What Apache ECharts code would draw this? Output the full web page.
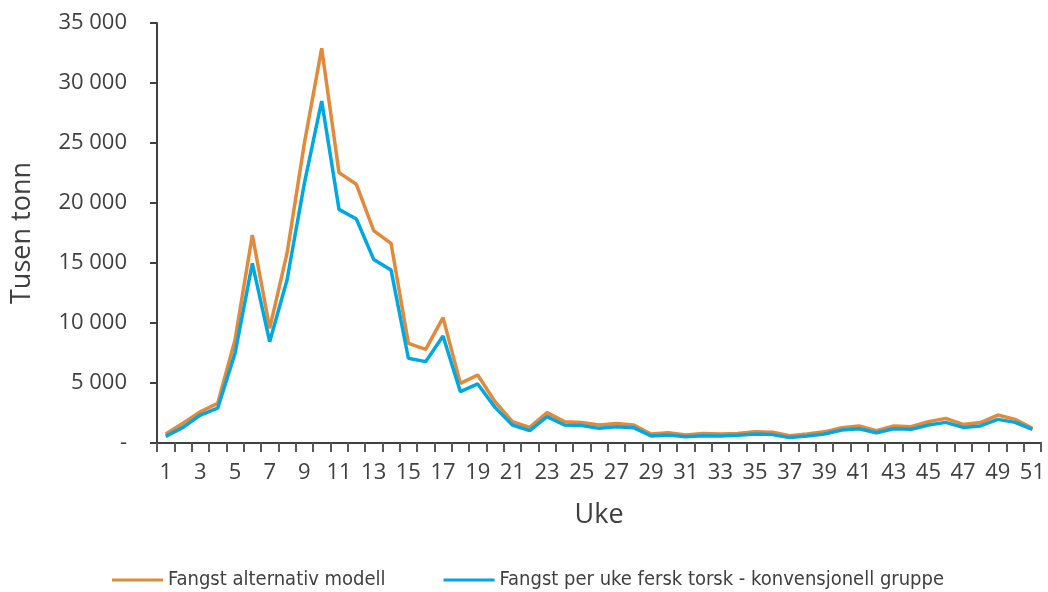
<!DOCTYPE html>
<html>
<head>
<meta charset="utf-8">
<script src="https://cdn.jsdelivr.net/npm/echarts@6/dist/echarts.min.js"></script>
<style>
  html, body { margin: 0; padding: 0; background: #fff; }
  #chart { width: 1048px; height: 592px; }
</style>
</head>
<body>
<div id="chart"></div>
<script>
// uker 1..51
const weeks = [];
for (let i = 1; i <= 51; i++) weeks.push(String(i));

const altModell = [
  750, 1640, 2600, 3300, 8580, 17330, 9560, 15800, 24970, 32890,
  22530, 21560, 17700, 16640, 8300, 7800, 10450, 4970, 5670, 3440,
  1780, 1300, 2530, 1780, 1700, 1500, 1620, 1500, 750, 860,
  670, 800, 750, 800, 940, 900, 610, 750, 930, 1280,
  1420, 1030, 1420, 1360, 1780, 2050, 1550, 1700, 2330, 1970,
  1220
];

const konvensjonell = [
  550, 1300, 2330, 2900, 7470, 14970, 8440, 13580, 21640, 28500,
  19470, 18670, 15300, 14420, 7060, 6780, 8920, 4280, 4920, 2970,
  1500, 1030, 2200, 1500, 1450, 1220, 1360, 1280, 580, 670,
  530, 610, 580, 640, 750, 700, 450, 580, 750, 1080,
  1190, 860, 1190, 1140, 1500, 1720, 1300, 1420, 1970, 1720,
  1140
];

const seriesNames = [
  "Fangst alternativ modell",
  "Fangst per uke fersk torsk - konvensjonell gruppe"
];

const chart = echarts.init(document.getElementById("chart"));

function fmtNum(v) {
  if (v === 0) return "-";
  return String(v).replace(/\B(?=(\d{3})+(?!\d))/g, " ");
}

const option = {
  animation: false,
  textStyle: { fontFamily: "Open Sans" },
  grid: {
    left: 157,
    right: 5,
    top: 23,
    bottom: 149,
  },
  legend: {
    top: 565,
    left: 107,
    itemGap: 58,
    icon: "rect",
    itemWidth: 51,
    itemHeight: 3,
    textStyle: {
      fontFamily: "DejaVu Sans Condensed",
      fontSize: 20,
      color: "#404040",
    },
    data: seriesNames,
  },
  xAxis: {
    type: "category",
    data: weeks,
    name: "Uke",
    nameLocation: "middle",
    nameGap: 59,
    nameTextStyle: { fontSize: 27, color: "#404040" },
    axisLine: { lineStyle: { color: "#404040", width: 2 } },
    axisTick: {
      show: true,
      interval: 0,
      length: 9,
      lineStyle: { color: "#595959", width: 2 },
    },
    axisLabel: {
      interval: 1,
      fontSize: 22,
      color: "#404040",
      margin: 19,
    },
  },
  yAxis: {
    type: "value",
    min: 0,
    max: 35000,
    interval: 5000,
    name: "Tusen tonn",
    nameLocation: "middle",
    nameGap: 121,
    nameTextStyle: { fontSize: 27, color: "#404040" },
    splitLine: { show: false },
    axisLine: { show: true, lineStyle: { color: "#404040", width: 2 } },
    axisTick: {
      show: true,
      length: 7,
      lineStyle: { color: "#404040", width: 2 },
    },
    axisLabel: {
      fontSize: 22,
      color: "#404040",
      margin: 30,
      formatter: fmtNum,
    },
  },
  series: [
    {
      name: seriesNames[0],
      type: "line",
      data: altModell,
      showSymbol: false,
      symbol: "none",
      lineStyle: { color: "#E2893A", width: 3.5 },
      itemStyle: { color: "#E2893A" },
    },
    {
      name: seriesNames[1],
      type: "line",
      data: konvensjonell,
      showSymbol: false,
      symbol: "none",
      lineStyle: { color: "#00A8E1", width: 3.5 },
      itemStyle: { color: "#00A8E1" },
    },
  ],
};

chart.setOption(option);
</script>
</body>
</html>
